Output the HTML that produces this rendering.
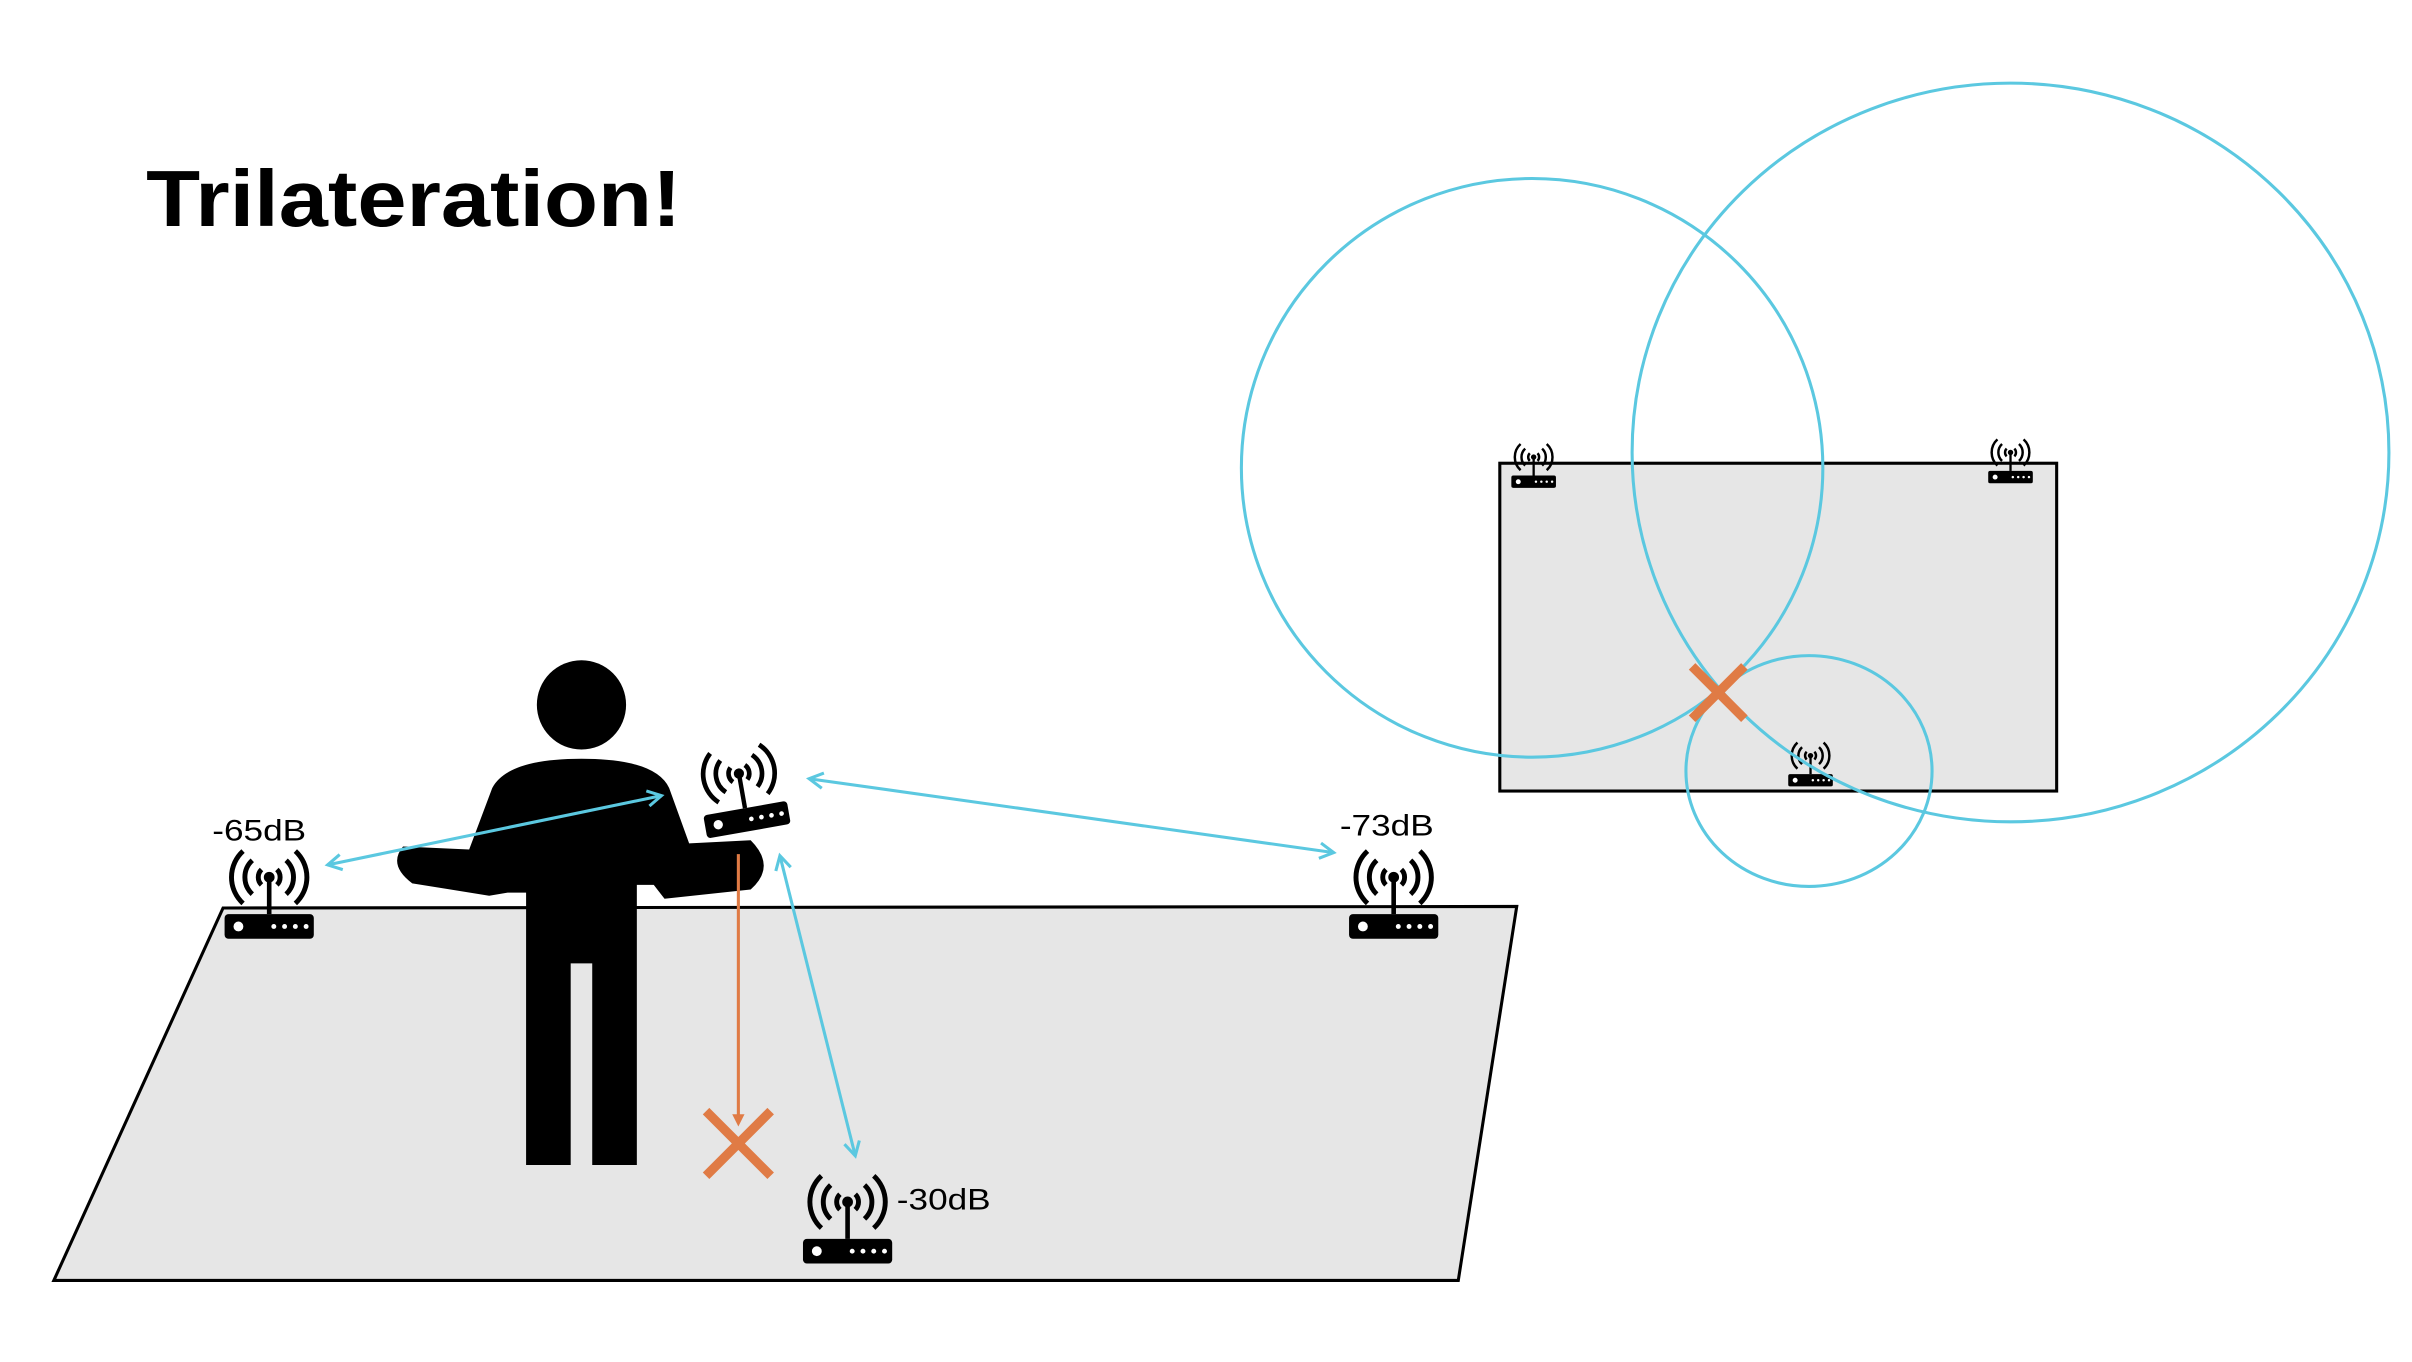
<!DOCTYPE html>
<html><head><style>html,body{margin:0;padding:0;background:#fff}svg{display:block}</style></head>
<body>
<svg width="2412" height="1362" viewBox="0 0 1568 885" preserveAspectRatio="none" xmlns="http://www.w3.org/2000/svg">
<defs>
<g id="r">
<rect x="-29" y="14" width="58" height="16" rx="2.5" fill="#000"/>
<circle cx="-20" cy="22" r="3.2" fill="#fff"/>
<circle cx="3" cy="22" r="1.6" fill="#fff"/><circle cx="10" cy="22" r="1.6" fill="#fff"/><circle cx="17" cy="22" r="1.6" fill="#fff"/><circle cx="24" cy="22" r="1.6" fill="#fff"/>
<line x1="0" y1="-10" x2="0" y2="14" stroke="#000" stroke-width="3"/>
<circle cx="0" cy="-10" r="3.5" fill="#000"/>
<g fill="none" stroke="#000" stroke-width="3.2">
<path d="M-5,-15 A7,7 0 0 0 -5,-5"/><path d="M5,-15 A7,7 0 0 1 5,-5"/>
<path d="M-11,-21 A15,15 0 0 0 -11,1"/><path d="M11,-21 A15,15 0 0 1 11,1"/>
<path d="M-17,-27 A23,23 0 0 0 -17,7"/><path d="M17,-27 A23,23 0 0 1 17,7"/>
</g>
</g>
<marker id="ac" markerWidth="12" markerHeight="12" refX="10" refY="6" orient="auto-start-reverse" markerUnits="userSpaceOnUse"><path d="M1,1 L10,6 L1,11" fill="none" stroke="#5bc8e0" stroke-width="2"/></marker>
</defs>
<text x="95" y="147" font-family="Liberation Sans, sans-serif" font-weight="bold" font-size="52" textLength="348" lengthAdjust="spacingAndGlyphs">Trilateration!</text>
<polygon points="145,590 986,589 948,832 35,832" fill="#e6e6e6" stroke="#000" stroke-width="2"/>
<!-- person -->
<circle cx="378" cy="458" r="29"/>
<path d="M342,757 L342,580 L330,580 L318,582 L268,574 Q252,562 262,550 L305,552 L320,512 Q330,493 378,493 Q426,493 435,512 L448,548 L488,546 Q505,563 488,578 L432,584 L425,575 L414,575 L414,757 L385,757 L385,626 L371,626 L371,757 Z"/>
<g transform="translate(482,512) rotate(-10) scale(0.95)"><use href="#r"/></g>
<use href="#r" transform="translate(175,580)"/>
<use href="#r" transform="translate(906,580)"/>
<use href="#r" transform="translate(551,791)"/>
<text x="138" y="546" font-family="Liberation Sans, sans-serif" font-size="19" textLength="61" lengthAdjust="spacingAndGlyphs">-65dB</text>
<text x="871" y="543" font-family="Liberation Sans, sans-serif" font-size="19" textLength="61" lengthAdjust="spacingAndGlyphs">-73dB</text>
<text x="583" y="786" font-family="Liberation Sans, sans-serif" font-size="19" textLength="61" lengthAdjust="spacingAndGlyphs">-30dB</text>
<g stroke="#5bc8e0" stroke-width="2" fill="none">
<line x1="213" y1="562" x2="430" y2="517" marker-start="url(#ac)" marker-end="url(#ac)"/>
<line x1="526" y1="506" x2="867" y2="554" marker-start="url(#ac)" marker-end="url(#ac)"/>
<line x1="507" y1="556" x2="556" y2="751" marker-start="url(#ac)" marker-end="url(#ac)"/>
</g>
<line x1="480" y1="555" x2="480" y2="728" stroke="#e07b45" stroke-width="2"/>
<path d="M476,724 L480,732 L484,724 Z" fill="#e07b45"/>
<g stroke="#e07b45" stroke-width="6"><line x1="459" y1="722" x2="501" y2="764"/><line x1="501" y1="722" x2="459" y2="764"/></g>
<!-- right diagram -->
<rect x="975" y="301" width="362" height="213" fill="#e6e6e6" stroke="#000" stroke-width="2"/>
<use href="#r" transform="translate(997,302) scale(0.5)"/>
<use href="#r" transform="translate(1307,299) scale(0.5)"/>
<use href="#r" transform="translate(1177,496) scale(0.5)"/>
<g fill="none" stroke="#5bc8e0" stroke-width="2">
<ellipse cx="996" cy="304" rx="189" ry="188"/>
<ellipse cx="1307" cy="294" rx="246" ry="240"/>
<ellipse cx="1176" cy="501" rx="80" ry="75"/>
</g>
<g stroke="#e07b45" stroke-width="6"><line x1="1100" y1="433" x2="1134" y2="467"/><line x1="1134" y1="433" x2="1100" y2="467"/></g>
</svg>
</body></html>
